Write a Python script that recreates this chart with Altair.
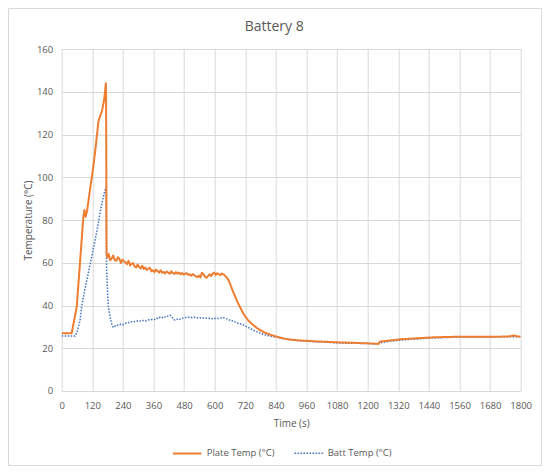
import altair as alt
import pandas as pd

# ---- data ----
series_names = ["Plate Temp (°C)", "Batt Temp (°C)"]
x_ticks = list(range(0, 1801, 120))
y_ticks = list(range(0, 161, 20))

plate_time = [0, 39, 59, 85, 89, 94, 100, 112, 124, 134, 144, 150, 158, 166, 170, 173, 174, 176,
              178, 184, 190, 196, 202, 208, 214, 220, 226, 232, 238, 244, 250, 256, 262, 268, 274,
              280, 286, 292, 298, 304, 310, 316, 322, 328, 334, 340, 346, 352, 358, 364, 370, 376,
              382, 388, 394, 400, 406, 412, 418, 424, 430, 436, 442, 448, 454, 460, 466, 472, 478,
              484, 490, 496, 502, 508, 514, 520, 526, 532, 538, 544, 550, 556, 562, 568, 574, 580,
              586, 592, 598, 604, 610, 616, 622, 628, 634, 640,
              648, 656, 664, 672, 680, 688, 696, 704, 712, 722, 732, 742, 752, 764, 778, 792, 806,
              822, 840, 860, 882, 910, 940, 961, 1000, 1040, 1078, 1120, 1160, 1196, 1220, 1242,
              1248, 1270, 1300, 1327, 1360, 1400, 1457, 1520, 1588, 1650, 1719, 1760, 1771, 1785, 1800]
plate_temp = [27, 27, 39.4, 81.5, 84.7, 81.5, 84.7, 95, 105, 115, 126, 128.3, 131, 136, 140, 144, 141, 64.5,
              62.5, 64.1, 61.2, 62.0, 63.4, 61.3, 60.8, 62.6, 61.9, 59.9, 61.4, 60.6, 60.2, 59.3, 60.9, 58.8, 59.4,
              59.9, 58.3, 57.8, 59.2, 57.9, 57.4, 58.6, 57.1, 57.8, 56.6, 57.2, 57.6, 56.0, 56.5, 55.6, 56.8, 56.2,
              55.4, 56.5, 55.3, 55.7, 55.0, 55.9, 55.4, 54.9, 56.0, 55.1, 54.8, 55.6, 54.9, 55.4, 54.6, 55.2, 54.5,
              54.9, 55.1, 54.3, 54.6, 53.9, 54.7, 54.2, 53.6, 53.3, 54.0, 53.1, 55.3, 54.6, 53.4, 53.0, 53.8, 54.6,
              53.8, 54.9, 55.4, 54.3, 55.1, 54.6, 54.2, 55.0, 54.6, 54.0,
              53.0, 51.5, 49.0, 46.5, 44.3, 42.0, 40.0, 38.2, 36.3, 34.5, 33.0, 31.8, 30.8, 29.6, 28.5, 27.6, 26.9,
              26.2, 25.5, 24.9, 24.3, 23.9, 23.6, 23.5, 23.2, 23.0, 22.8, 22.6, 22.5, 22.3, 22.2, 22.0,
              23.1, 23.4, 23.8, 24.2, 24.4, 24.7, 25.1, 25.3, 25.4, 25.4, 25.4, 25.6, 26.0, 25.6, 25.4]

batt_time = [0, 52, 60, 72, 78, 90, 104, 118, 131, 140, 150, 160, 170, 174, 176, 180, 183, 190, 196, 202,
             208, 216, 224, 232, 240, 250, 260, 270, 281, 290, 300, 310, 320, 330, 340, 346, 356, 364, 372,
             380, 386, 392, 400, 408, 416, 425, 432, 438, 444, 452, 460, 468, 476, 484, 490, 500, 510, 520,
             530, 542, 552, 562, 572, 584, 594, 604, 614, 624, 634, 644, 654, 664, 673, 684, 694, 704, 712,
             722, 732, 742, 751, 764, 778, 791, 806, 822, 840, 860, 882, 910, 940, 970, 1000, 1040, 1080,
             1120, 1160, 1200, 1240, 1250, 1270, 1300, 1330, 1360, 1400, 1450, 1500, 1560, 1620, 1680, 1740, 1800]
batt_temp = [25.7, 25.7, 27.5, 33, 39.4, 47, 55, 63, 70.6, 76, 83, 89, 94, 95.6, 58, 46, 39.4, 34.5, 31.5, 29.8,
             30.2, 30.9, 30.6, 31.3, 31.0, 31.7, 31.9, 32.3, 32.6, 32.4, 32.9, 32.7, 33.0, 32.8, 33.3, 33.2, 33.6, 33.4, 34.0,
             33.8, 34.6, 34.5, 34.2, 34.9, 35.0, 35.5, 34.6, 33.6, 33.2, 33.6, 33.3, 33.9, 34.1, 34.4, 34.3, 34.6, 34.4, 34.5,
             34.2, 34.3, 34.0, 34.2, 33.9, 34.0, 33.7, 34.0, 33.9, 34.2, 34.3, 33.9, 33.4, 32.9, 32.7, 32.0, 31.6, 31.3, 30.9,
             30.3, 29.7, 29.1, 28.5, 27.8, 27.1, 26.5, 26.0, 25.6, 25.2, 24.7, 24.2, 23.8, 23.4, 23.2, 23.0, 22.8, 22.5,
             22.3, 22.3, 22.2, 22.1, 22.5, 23.0, 23.4, 23.8, 24.1, 24.4, 24.8, 25.0, 25.2, 25.3, 25.3, 25.4, 25.4]

# Batt first so the orange Plate line is drawn on top
df = pd.concat([
    pd.DataFrame({"time": batt_time, "temp": batt_temp, "series": series_names[1]}),
    pd.DataFrame({"time": plate_time, "temp": plate_temp, "series": series_names[0]}),
], ignore_index=True)

FONT = "Open Sans"
GREY = "#595959"
GRID = "#d9d9d9"

lines = alt.Chart(df).mark_line(strokeCap="butt", strokeJoin="round", clip=True).encode(
    x=alt.X("time:Q", title="Time (s)",
            scale=alt.Scale(domain=[0, 1800], nice=False),
            axis=alt.Axis(values=x_ticks, format="d", labelOverlap=False, labelFlush=False,
                          labelPadding=10, titlePadding=8)),
    y=alt.Y("temp:Q", title="Temperature (°C)",
            scale=alt.Scale(domain=[0, 160], nice=False),
            axis=alt.Axis(values=y_ticks, format="d", labelOverlap=False, labelFlush=False,
                          labelPadding=9, titlePadding=3)),
    color=alt.Color("series:N", title=None,
                    scale=alt.Scale(domain=series_names, range=["#ED7D31", "#4472C4"]),
                    legend=alt.Legend(orient="none", direction="horizontal", legendX=110, legendY=389,
                                      symbolType="stroke", symbolSize=812, labelOffset=4,
                                      columnPadding=16, padding=0, labelFontSize=9.5,
                                      labelColor=GREY, labelFont=FONT)),
    strokeDash=alt.StrokeDash("series:N", title=None,
                              scale=alt.Scale(domain=series_names, range=[[1, 0], [1.5, 1.5]])),
    strokeWidth=alt.StrokeWidth("series:N", title=None,
                                scale=alt.Scale(domain=series_names, range=[2, 1.5])),
    order=alt.Order("time:Q"),
)

border_df = pd.DataFrame({"k": [0]})
border = alt.Chart(border_df).mark_rect(fill="transparent", stroke=GRID, strokeWidth=1).encode(
    x=alt.value(-53.2), x2=alt.value(479.8), y=alt.value(-40.5), y2=alt.value(416.5)
)

chart = alt.layer(border, lines).properties(
    width=459, height=342,
    padding={"left": 53.7, "top": 41, "right": 21, "bottom": 75},
    autosize=alt.AutoSizeParams(type="none"),
    title=alt.TitleParams("Battery 8", fontSize=14, font=FONT, color=GREY, fontWeight="normal",
                          anchor="middle", frame="group", dx=-17, dy=40.5, offset=15),
).configure_view(stroke="transparent").configure_axis(
    grid=True, gridColor=GRID, gridWidth=1, domain=False, ticks=False,
    labelFont=FONT, labelFontSize=9.5, labelColor=GREY,
    titleFont=FONT, titleFontSize=10, titleColor=GREY, titleFontWeight="normal",
)

chart.save("out.html", embed_options={"renderer": "svg", "actions": False})
